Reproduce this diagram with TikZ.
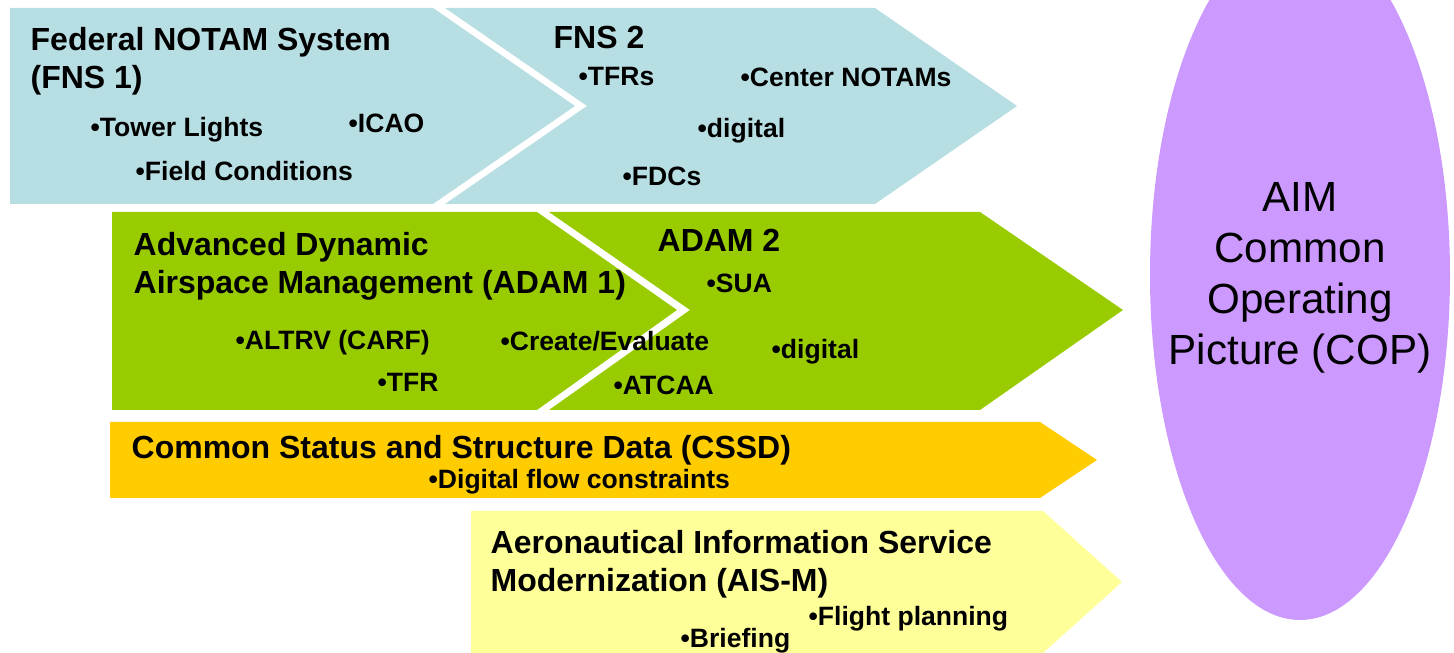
\documentclass[tikz,border=0pt]{standalone}
\usepackage{fontspec}
\setmainfont{Liberation Sans}
\definecolor{fnsblue}{RGB}{183,222,226}
\definecolor{adamgreen}{RGB}{153,204,0}
\definecolor{cssdgold}{RGB}{255,204,0}
\definecolor{aisyellow}{RGB}{255,255,153}
\definecolor{coppurple}{RGB}{204,153,255}
\begin{document}
\begin{tikzpicture}[
    heading/.style={anchor=north west,inner sep=0pt,align=left,
      font=\fontsize{9.1}{10.8}\selectfont\bfseries},
    entry/.style={anchor=base west,inner sep=0pt,
      font=\fontsize{7.55}{9}\selectfont\bfseries}]
    \clip (0.0,0.0) rectangle (14.54,6.53);
    % FNS row
    \fill[fnsblue] (4.45,6.45) -- (8.75,6.45) -- (10.17,5.47) -- (8.75,4.49) -- (4.45,4.49) -- (5.87,5.47) -- cycle;
    \fill[fnsblue] (0.10,6.45) -- (4.33,6.45) -- (5.75,5.47) -- (4.33,4.49) -- (0.10,4.49) -- cycle;
    % ADAM row
    \fill[adamgreen] (5.49,4.41) -- (9.80,4.41) -- (11.23,3.43) -- (9.80,2.43) -- (5.49,2.43) -- (6.90,3.43) -- cycle;
    \fill[adamgreen] (1.12,4.41) -- (5.37,4.41) -- (6.77,3.43) -- (5.37,2.43) -- (1.12,2.43) -- cycle;
    % CSSD and AIS-M
    \fill[cssdgold] (1.10,2.31) -- (10.40,2.31) -- (10.97,1.93) -- (10.40,1.55) -- (1.10,1.55) -- cycle;
    \fill[aisyellow] (4.71,1.42) -- (10.43,1.42) -- (11.22,0.71) -- (10.43,0.0) -- (4.71,0.0) -- cycle;
    \fill[coppurple] (13.00,3.78) ellipse (1.50 and 3.45);

    \node[heading] (fns1) at (0.30,6.26) {Federal NOTAM System\\(FNS 1)};
    \node[entry] (tower) at (0.90,5.16) {•Tower Lights};
    \node[entry] (icao) at (3.48,5.20) {•ICAO};
    \node[entry] (field) at (1.35,4.72) {•Field Conditions};
    \node[heading] (fns2) at (5.53,6.28) {FNS 2};
    \node[entry] (tfrs) at (5.78,5.67) {•TFRs};
    \node[entry] (center) at (7.40,5.66) {•Center NOTAMs};
    \node[entry] (digfns) at (6.97,5.15) {•digital};
    \node[entry] (fdcs) at (6.22,4.67) {•FDCs};

    \node[heading] (adam1) at (1.33,4.21) {Advanced Dynamic\\Airspace Management (ADAM 1)};
    \node[entry] (altrv) at (2.35,3.03) {•ALTRV (CARF)};
    \node[entry] (tfr) at (3.77,2.61) {•TFR};
    \node[entry] (create) at (5.00,3.02) {•Create/Evaluate};
    \node[heading] (adam2) at (6.57,4.25) {ADAM 2};
    \node[entry] (sua) at (7.06,3.60) {•SUA};
    \node[entry] (digadam) at (7.71,2.94) {•digital};
    \node[entry] (atcaa) at (6.13,2.58) {•ATCAA};

    \node[heading] (cssd) at (1.31,2.18) {Common Status and Structure Data (CSSD)};
    \node[entry] (flow) at (4.28,1.64) {•Digital flow constraints};

    \node[heading] (aism) at (4.90,1.23) {Aeronautical Information Service\\Modernization (AIS-M)};
    \node[entry] (flight) at (8.08,0.27) {•Flight planning};
    \node[entry] (brief) at (6.80,0.05) {•Briefing};

    \node[align=center,inner sep=0pt,font=\fontsize{12}{14.5}\selectfont] (cop) at (13.00,3.75) {AIM\\Common\\Operating\\Picture (COP)};
  \end{tikzpicture}
\end{document}
